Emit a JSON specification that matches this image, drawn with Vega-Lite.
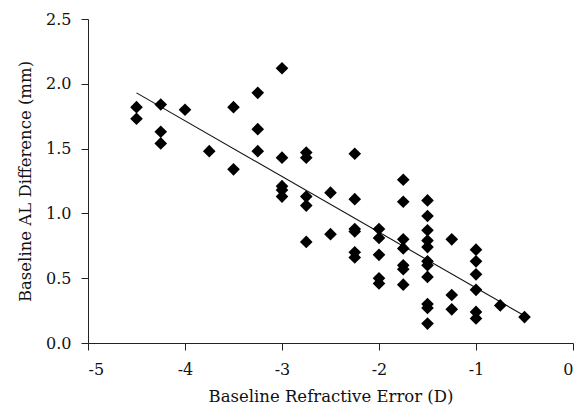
{
  "$schema": "https://vega.github.io/schema/vega-lite/v6.json",
  "width": 485,
  "height": 324,
  "autosize": "none",
  "padding": {"left": 88, "top": 19, "right": 9, "bottom": 68},
  "background": "white",
  "config": {
    "view": {"stroke": null},
    "font": "DejaVu Serif",
    "axis": {
      "grid": false,
      "domainColor": "#222222",
      "tickColor": "#222222",
      "tickSize": 7,
      "labelColor": "#111111",
      "titleColor": "#111111",
      "labelFont": "DejaVu Serif",
      "titleFont": "DejaVu Serif",
      "labelFontSize": 16,
      "titleFontSize": 16.5,
      "titleFontWeight": "normal"
    }
  },
  "datasets": {
    "pts": [
      {"x": -4.5, "y": 1.82}, {"x": -4.5, "y": 1.73},
      {"x": -4.25, "y": 1.84}, {"x": -4.25, "y": 1.63}, {"x": -4.25, "y": 1.54},
      {"x": -4.0, "y": 1.80},
      {"x": -3.75, "y": 1.48},
      {"x": -3.5, "y": 1.82}, {"x": -3.5, "y": 1.34},
      {"x": -3.25, "y": 1.93}, {"x": -3.25, "y": 1.65}, {"x": -3.25, "y": 1.48},
      {"x": -3.0, "y": 2.12}, {"x": -3.0, "y": 1.43}, {"x": -3.0, "y": 1.21}, {"x": -3.0, "y": 1.18}, {"x": -3.0, "y": 1.13},
      {"x": -2.75, "y": 1.47}, {"x": -2.75, "y": 1.43}, {"x": -2.75, "y": 1.13}, {"x": -2.75, "y": 1.06}, {"x": -2.75, "y": 0.78},
      {"x": -2.5, "y": 1.16}, {"x": -2.5, "y": 0.84},
      {"x": -2.25, "y": 1.46}, {"x": -2.25, "y": 1.11}, {"x": -2.25, "y": 0.88}, {"x": -2.25, "y": 0.86}, {"x": -2.25, "y": 0.70}, {"x": -2.25, "y": 0.66},
      {"x": -2.0, "y": 0.88}, {"x": -2.0, "y": 0.81}, {"x": -2.0, "y": 0.68}, {"x": -2.0, "y": 0.50}, {"x": -2.0, "y": 0.46},
      {"x": -1.75, "y": 1.26}, {"x": -1.75, "y": 1.09}, {"x": -1.75, "y": 0.80}, {"x": -1.75, "y": 0.73}, {"x": -1.75, "y": 0.60}, {"x": -1.75, "y": 0.57}, {"x": -1.75, "y": 0.45},
      {"x": -1.5, "y": 1.10}, {"x": -1.5, "y": 0.98}, {"x": -1.5, "y": 0.87}, {"x": -1.5, "y": 0.79}, {"x": -1.5, "y": 0.74}, {"x": -1.5, "y": 0.63}, {"x": -1.5, "y": 0.60}, {"x": -1.5, "y": 0.51}, {"x": -1.5, "y": 0.30}, {"x": -1.5, "y": 0.27}, {"x": -1.5, "y": 0.15},
      {"x": -1.25, "y": 0.80}, {"x": -1.25, "y": 0.37}, {"x": -1.25, "y": 0.26},
      {"x": -1.0, "y": 0.72}, {"x": -1.0, "y": 0.63}, {"x": -1.0, "y": 0.53}, {"x": -1.0, "y": 0.41}, {"x": -1.0, "y": 0.24}, {"x": -1.0, "y": 0.19},
      {"x": -0.75, "y": 0.29},
      {"x": -0.5, "y": 0.20}
    ],
    "fit": [
      {"x": -4.5, "y": 1.93},
      {"x": -0.5, "y": 0.21}
    ]
  },
  "layer": [
    {
      "data": {"name": "fit"},
      "mark": {"type": "line", "color": "#111111", "strokeWidth": 1.1},
      "encoding": {
        "x": {"field": "x", "type": "quantitative"},
        "y": {"field": "y", "type": "quantitative"}
      }
    },
    {
      "data": {"name": "pts"},
      "mark": {"type": "point", "shape": "diamond", "filled": true, "color": "#000000", "opacity": 1, "size": 160},
      "encoding": {
        "x": {
          "field": "x", "type": "quantitative",
          "scale": {"domain": [-5, 0], "nice": false, "zero": false},
          "axis": {"values": [-5, -4, -3, -2, -1, 0], "labelExpr": "'' + datum.value", "title": "Baseline Refractive Error (D)", "titlePadding": 11, "labelPadding": 11}
        },
        "y": {
          "field": "y", "type": "quantitative",
          "scale": {"domain": [0, 2.5], "nice": false},
          "axis": {"values": [0, 0.5, 1, 1.5, 2, 2.5], "format": ".1f", "title": "Baseline AL Difference (mm)", "titlePadding": 12, "labelPadding": 10}
        }
      }
    }
  ]
}
